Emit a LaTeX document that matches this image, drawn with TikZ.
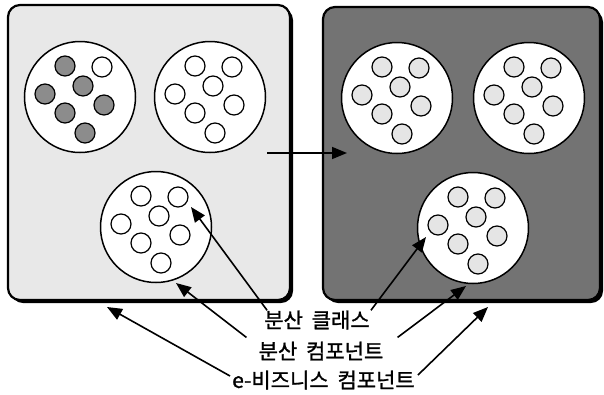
\documentclass[tikz,border=0pt]{standalone}
\usepackage{fontspec}
\newfontfamily\kr[FakeBold=1.2]{Noto Sans CJK KR}
\usetikzlibrary{arrows.meta,shadows,calc}
\tikzset{
  boxstyle/.style={draw=black,line width=2.2pt,rounded corners=12pt,inner sep=0pt,
    drop shadow={shadow xshift=3pt,shadow yshift=-3pt,fill=black,opacity=1}},
  bigc/.style={circle,draw=black,line width=1.5pt,fill=white,minimum size=111pt,inner sep=0pt},
  smallc/.style={circle,draw=black,line width=1.2pt,minimum size=20pt,inner sep=0pt},
  arr/.style={line width=1.6pt,-{Triangle[length=15pt,width=12pt]}},
  lbl/.style={font=\kr\fontsize{21}{24}\selectfont,inner sep=0pt,text=black}
}
\newcommand{\mycluster}[4]{%
  \node[bigc] (#3) at (#1,#2) {};
  \foreach \dx/\dy/\f [count=\i] in {#4}
    \node[smallc,fill=\f] (#3s\i) at (#1+\dx,#2+\dy) {};
}
\begin{document}
\begin{tikzpicture}[x=1pt,y=-1pt]
\useasboundingbox (0,0) rectangle (604,394);
% boxes
\node[boxstyle,fill=black!9,minimum width=282pt,minimum height=295pt] (boxL) at (149,152.5) {};
\node[boxstyle,fill=black!55,minimum width=277pt,minimum height=293pt] (boxR) at (461.5,153.5) {};
% clusters, left box
\mycluster{80}{97}{cA}{-15/-31/black!45, 22/-30/white, 3/-11/black!45, -35/-3/black!45, 24/8/black!45, -15/16/black!45, 5/36/black!45}
\mycluster{210}{97}{cB}{-15/-31/white, 22/-30/white, 3/-11/white, -35/-3/white, 24/8/white, -15/16/white, 5/36/white}
\mycluster{156}{227}{cC}{-15/-31/white, 22/-30/white, 3/-11/white, -35/-3/white, 24/8/white, -15/16/white, 5/36/white}
% clusters, right box
\mycluster{397}{98}{cD}{-15/-31/black!10, 22/-30/black!10, 3/-11/black!10, -35/-3/black!10, 24/8/black!10, -15/16/black!10, 5/36/black!10}
\mycluster{529}{98}{cE}{-15/-31/black!10, 22/-30/black!10, 3/-11/black!10, -35/-3/black!10, 24/8/black!10, -15/16/black!10, 5/36/black!10}
\mycluster{473}{228}{cF}{-15/-31/black!10, 22/-30/black!10, 3/-11/black!10, -35/-3/black!10, 24/8/black!10, -15/16/black!10, 5/36/black!10}
% transition arrow
\coordinate (hS) at (267,153);
\coordinate (hT) at (347,153);
\draw[arr] (hS) -- (hT);
% labels
\node[lbl] (lbl1) at (317,320) {분산\hspace{0.42em}클래스};
\node[lbl] (lbl2) at (321,351) {분산\hspace{0.42em}컴포넌트};
\node[lbl] (lbl3) at (323.5,380) {e-비즈니스\hspace{0.42em}컴포넌트};
% arrow tips
\coordinate (t1) at (191,207);
\coordinate (t2) at (426,237);
\coordinate (t3) at (176,283);
\coordinate (t4) at (466,286);
\coordinate (t5) at (107,307);
\coordinate (t6) at (488,307);
% pointer arrows
\draw[arr] ($(lbl1.north west)+(3,0)$) -- (t1);
\draw[arr] ($(lbl1.north east)+(1,0)$) -- (t2);
\draw[arr] ($(lbl2.north west)+(-12,-4)$) -- (t3);
\draw[arr] ($(lbl2.north east)+(14,-4)$) -- (t4);
\draw[arr] ($(lbl3.west)+(-2,-4)$) -- (t5);
\draw[arr] ($(lbl3.east)+(3,-5)$) -- (t6);
\end{tikzpicture}
\end{document}
